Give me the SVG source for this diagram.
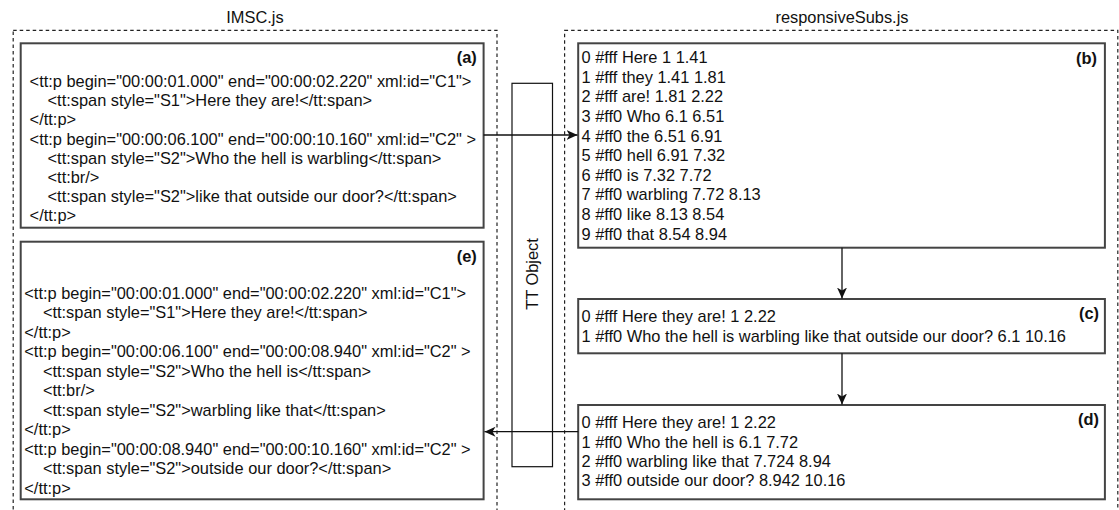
<svg xmlns="http://www.w3.org/2000/svg" width="1119" height="510" viewBox="0 0 1119 510">
<style>
text{font-family:"Liberation Sans",Arial,Helvetica,sans-serif;font-size:16.4px;fill:#111}
.lbl{font-weight:bold;text-anchor:end}
.title{text-anchor:middle}
.group{fill:none;stroke:#222;stroke-width:1.2;stroke-dasharray:3.5 3}
.box{fill:#fff;stroke:#444;stroke-width:2}
.tt{fill:#fff;stroke:#111;stroke-width:1.2}
.conn{fill:none;stroke:#111;stroke-width:1.3}
</style>
<defs>
<marker id="arr" markerUnits="userSpaceOnUse" markerWidth="13" markerHeight="12" refX="11" refY="6" orient="auto">
<path d="M0,1 L11,6 L0,11 L3,6 Z" fill="#111"/>
</marker>
</defs>
<g id="group-imsc">
<rect class="group" x="13.2" y="30.3" width="483.8" height="500"/>
<text class="title" x="255" y="22.5">IMSC.js</text>
</g>
<g id="group-responsivesubs">
<rect class="group" x="564.6" y="30.3" width="553.2" height="500"/>
<text class="title" x="842" y="22.5">responsiveSubs.js</text>
</g>
<g id="tt-object">
<rect class="tt" x="512" y="83.3" width="40.5" height="383.4"/>
<text class="title" transform="translate(538,274) rotate(-90)">TT Object</text>
</g>
<g id="node-a">
<rect class="box" x="20.7" y="43.3" width="462.9" height="184.4"/>
<text class="lbl" x="476.8" y="63.3">(a)</text>
<text x="29.6" y="87.2">&lt;tt:p begin="00:00:01.000" end="00:00:02.220" xml:id="C1"&gt;</text>
<text x="47.5" y="106.3">&lt;tt:span style="S1"&gt;Here they are!&lt;/tt:span&gt;</text>
<text x="29.6" y="125.4">&lt;/tt:p&gt;</text>
<text x="29.6" y="144.5">&lt;tt:p begin="00:00:06.100" end="00:00:10.160" xml:id="C2" &gt;</text>
<text x="47.5" y="163.6">&lt;tt:span style="S2"&gt;Who the hell is warbling&lt;/tt:span&gt;</text>
<text x="47.5" y="182.7">&lt;tt:br/&gt;</text>
<text x="47.5" y="201.8">&lt;tt:span style="S2"&gt;like that outside our door?&lt;/tt:span&gt;</text>
<text x="29.6" y="220.9">&lt;/tt:p&gt;</text>
</g>
<g id="node-e">
<rect class="box" x="20.7" y="241.7" width="462.9" height="257.6"/>
<text class="lbl" x="476.8" y="261.5">(e)</text>
<text x="24.3" y="298.8">&lt;tt:p begin="00:00:01.000" end="00:00:02.220" xml:id="C1"&gt;</text>
<text x="42.9" y="318.3">&lt;tt:span style="S1"&gt;Here they are!&lt;/tt:span&gt;</text>
<text x="24.3" y="337.8">&lt;/tt:p&gt;</text>
<text x="24.3" y="357.3">&lt;tt:p begin="00:00:06.100" end="00:00:08.940" xml:id="C2" &gt;</text>
<text x="42.9" y="376.8">&lt;tt:span style="S2"&gt;Who the hell is&lt;/tt:span&gt;</text>
<text x="42.9" y="396.3">&lt;tt:br/&gt;</text>
<text x="42.9" y="415.8">&lt;tt:span style="S2"&gt;warbling like that&lt;/tt:span&gt;</text>
<text x="24.3" y="435.3">&lt;/tt:p&gt;</text>
<text x="24.3" y="454.8">&lt;tt:p begin="00:00:08.940" end="00:00:10.160" xml:id="C2" &gt;</text>
<text x="42.9" y="474.3">&lt;tt:span style="S2"&gt;outside our door?&lt;/tt:span&gt;</text>
<text x="24.3" y="493.8">&lt;/tt:p&gt;</text>
</g>
<g id="node-b">
<rect class="box" x="578.2" y="43.3" width="526.7" height="204.4"/>
<text class="lbl" x="1097" y="63.8">(b)</text>
<text x="581.5" y="63.2">0 #fff Here 1 1.41</text>
<text x="581.5" y="82.8">1 #fff they 1.41 1.81</text>
<text x="581.5" y="102.4">2 #fff are! 1.81 2.22</text>
<text x="581.5" y="122">3 #ff0 Who 6.1 6.51</text>
<text x="581.5" y="141.6">4 #ff0 the 6.51 6.91</text>
<text x="581.5" y="161.2">5 #ff0 hell 6.91 7.32</text>
<text x="581.5" y="180.8">6 #ff0 is 7.32 7.72</text>
<text x="581.5" y="200.4">7 #ff0 warbling 7.72 8.13</text>
<text x="581.5" y="220">8 #ff0 like 8.13 8.54</text>
<text x="581.5" y="239.6">9 #ff0 that 8.54 8.94</text>
</g>
<g id="node-c">
<rect class="box" x="578.2" y="299" width="526.7" height="54.3"/>
<text class="lbl" x="1099" y="318.8">(c)</text>
<text x="581.5" y="322.2">0 #fff Here they are! 1 2.22</text>
<text x="581.5" y="341.5">1 #ff0 Who the hell is warbling like that outside our door? 6.1 10.16</text>
</g>
<g id="node-d">
<rect class="box" x="578.2" y="405" width="526.7" height="94.3"/>
<text class="lbl" x="1099" y="424.8">(d)</text>
<text x="581.5" y="428.2">0 #fff Here they are! 1 2.22</text>
<text x="581.5" y="447.6">1 #ff0 Who the hell is 6.1 7.72</text>
<text x="581.5" y="467">2 #ff0 warbling like that 7.724 8.94</text>
<text x="581.5" y="486.4">3 #ff0 outside our door? 8.942 10.16</text>
</g>
<g id="connectors">
<line class="conn" x1="483.6" y1="135" x2="577.5" y2="135" marker-end="url(#arr)"/>
<line class="conn" x1="842" y1="247.7" x2="842" y2="298.5" marker-end="url(#arr)"/>
<line class="conn" x1="842" y1="353.3" x2="842" y2="404.5" marker-end="url(#arr)"/>
<line class="conn" x1="578.2" y1="431.7" x2="484.5" y2="431.7" marker-end="url(#arr)"/>
</g>
</svg>
